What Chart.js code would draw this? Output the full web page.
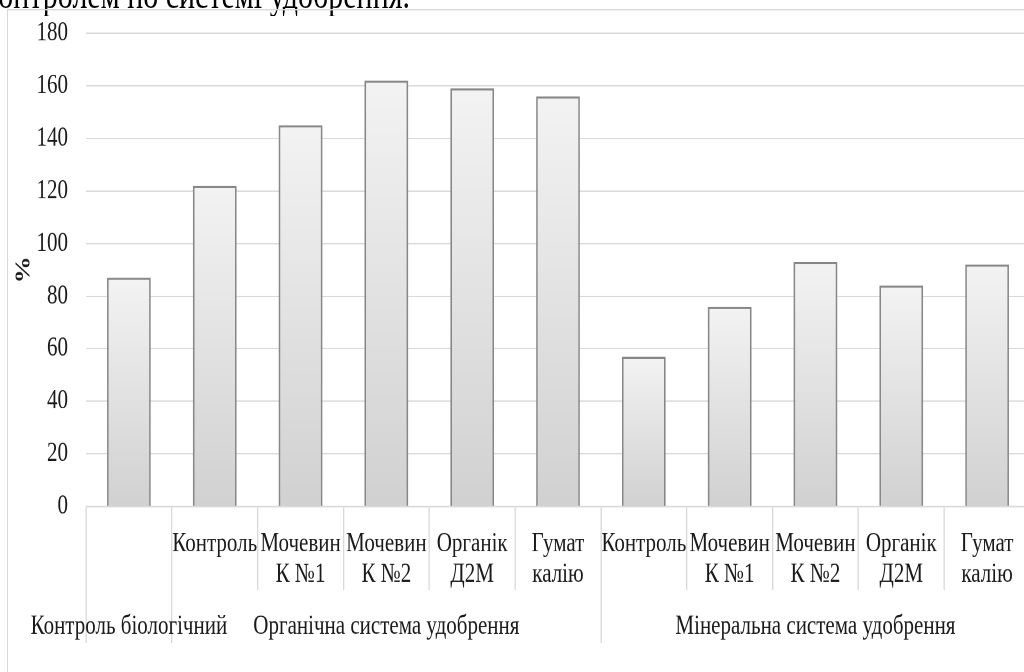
<!DOCTYPE html>
<html>
<head>
  <meta charset="utf-8">
  <title>Система удобрення, %</title>
  <style>
    html, body { margin: 0; padding: 0; background: #fff; overflow: hidden; }
    body { width: 1024px; height: 672px; position: relative; }
    /* the source picture is stretched vertically, so the whole page is drawn flat and scaled */
    .page { position: absolute; left: 0; top: 0; width: 1100px; height: 517px;
            transform: scaleY(1.3); transform-origin: 0 0;
            font-family: 'Liberation Serif', 'Times New Roman', serif; }
    .caption { position: absolute; left: 410px; top: -19.5px; transform: translateX(-100%);
               font-size: 30px; line-height: 30px; white-space: nowrap; color: #000; }
    .frame { position: absolute; left: 7px; top: 7px; width: 1080px; height: 540px;
             border-left: 1px solid #d9d9d9; border-top: 1px solid #d9d9d9; }
    .chart { position: absolute; left: 8px; top: 8px; width: 1030px; height: 509px; }
  </style>
  <script src="https://cdn.jsdelivr.net/npm/chart.js"></script>
</head>
<body>
  <div class="page">
    <div class="caption">контролем по системі удобрення.</div>
    <div class="frame"></div>
    <div class="chart">
      <canvas id="fertChart"></canvas>
    </div>
  </div>

  <script>
    // first row of the category axis
    const categories = [
      '',
      'Контроль',
      ['Мочевин', 'К №1'],
      ['Мочевин', 'К №2'],
      ['Органік', 'Д2М'],
      ['Гумат', 'калію'],
      'Контроль',
      ['Мочевин', 'К №1'],
      ['Мочевин', 'К №2'],
      ['Органік', 'Д2М'],
      ['Гумат', 'калію']
    ];
    // second row: group names sit under the middle category of each group
    const groupLabels = [
      'Контроль біологічний', '', '',
      'Органічна система удобрення', '', '', '', '',
      'Мінеральна система удобрення', '', ''
    ];
    // category boundaries where a group starts / ends
    const groupEdges = [0, 1, 6, 11];
    const values = [87, 122, 145, 162, 159, 156, 57, 76, 93, 84, 92];
    const yMin = 0;
    const yMax = 180;
    const yStep = 20;

    const font = { family: "'Liberation Serif', 'Times New Roman', serif", size: 21, lineHeight: 1.13 };
    const textColor = '#1a1a1a';
    const lineColor = '#d9d9d9';

    function barFill(ctx) {
      const chart = ctx.chart;
      if (!chart.chartArea || ctx.type !== 'data') return '#e2e2e2';
      const y = chart.scales.y;
      const top = y.getPixelForValue(ctx.raw);
      const bottom = y.getPixelForValue(0);
      const g = chart.ctx.createLinearGradient(0, top, 0, bottom);
      g.addColorStop(0, '#f3f3f3');
      g.addColorStop(1, '#d1d1d1');
      return g;
    }

    const ctx = document.getElementById('fertChart').getContext('2d');
    new Chart(ctx, {
      type: 'bar',
      data: {
        labels: categories,
        datasets: [{
          data: values,
          backgroundColor: barFill,
          borderColor: '#878787',
          borderWidth: 1.7,
          barPercentage: 0.51,
          categoryPercentage: 1
        }]
      },
      options: {
        responsive: true,
        maintainAspectRatio: false,
        animation: false,
        devicePixelRatio: 2,
        layout: { padding: { top: 17.6, right: 8, bottom: 20, left: 0 } },
        plugins: {
          legend: { display: false },
          tooltip: { enabled: false }
        },
        scales: {
          x: {
            position: 'bottom',
            weight: 0,
            offset: true,
            afterFit: s => { s.height = 64.5; },
            grid: {
              offset: true,
              drawOnChartArea: false,
              drawTicks: true,
              tickLength: 64.5,
              color: lineColor,
              lineWidth: 1.3
            },
            border: { display: true, color: lineColor, width: 1.3 },
            ticks: {
              autoSkip: false,
              maxRotation: 0,
              minRotation: 0,
              padding: -47.5,
              color: textColor,
              font: font
            }
          },
          x2: {
            type: 'category',
            position: 'bottom',
            weight: 1,
            offset: true,
            labels: groupLabels,
            afterFit: s => { s.height = 43; },
            grid: {
              offset: true,
              drawOnChartArea: false,
              drawTicks: true,
              tickLength: 40.5,
              lineWidth: 1.3,
              color: c => (c.index === undefined || groupEdges.includes(c.index)) ? lineColor : 'rgba(0,0,0,0)'
            },
            border: { display: false },
            ticks: {
              autoSkip: false,
              maxRotation: 0,
              minRotation: 0,
              padding: -24.4,
              color: textColor,
              font: font
            }
          },
          y: {
            min: yMin,
            max: yMax,
            afterFit: s => { s.width = 78; s.paddingTop = 0; s.paddingBottom = 0; },
            grid: { color: lineColor, lineWidth: 1, drawTicks: false },
            border: { display: false },
            ticks: {
              stepSize: yStep,
              padding: 18,
              color: textColor,
              font: font
            },
            title: {
              display: true,
              text: '%',
              color: textColor,
              padding: { top: 4, bottom: 0 },
              font: { family: font.family, size: 21, weight: 'bold', lineHeight: 1.13 }
            }
          }
        }
      }
    });
  </script>
</body>
</html>
